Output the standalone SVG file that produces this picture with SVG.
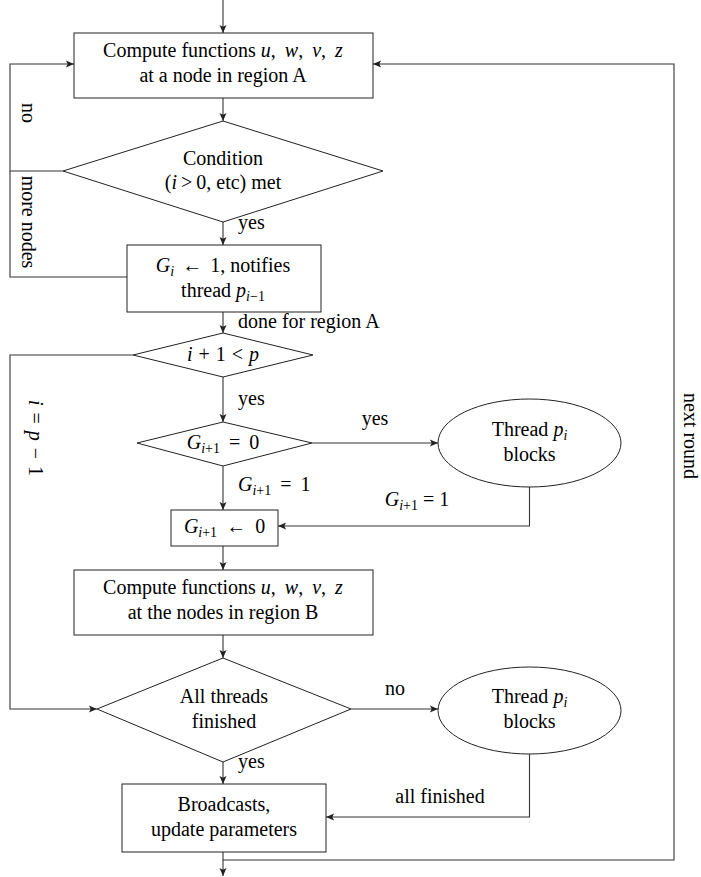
<svg xmlns="http://www.w3.org/2000/svg" width="701" height="877" viewBox="0 0 701 877" font-family="'Liberation Serif', 'Times New Roman', Tinos, 'DejaVu Serif', serif">
<style>
text{font-family:'Liberation Serif','Times New Roman',Tinos,'DejaVu Serif',serif;font-size:20px;fill:#000}
.m{font-style:italic}
.s{font-size:14px}
.n{fill:#fff;stroke:#222;stroke-width:1}
.c{fill:none;stroke:#333;stroke-width:1.1}
.a{marker-end:url(#arr)}
</style>
<defs>
<marker id="arr" markerUnits="userSpaceOnUse" markerWidth="10" markerHeight="10" viewBox="-7 -4 8 8" refX="0" refY="0" orient="auto">
<path d="M0,0 L-6.5,-2.8 L-5,0 L-6.5,2.8 z" fill="#222"/>
</marker>
</defs>
<g id="connectors">
<path class="c a" d="M223,0 V33"/>
<path class="c a" d="M223,98 V121"/>
<path class="c a" d="M63,171 H10 V64 H74"/>
<path class="c a" d="M223,222 V245"/>
<path class="c" d="M127,277 H10 V171"/>
<path class="c a" d="M223,312 V333"/>
<path class="c a" d="M133,355 H10 V709 H97"/>
<path class="c a" d="M223,377 V422"/>
<path class="c a" d="M312,443 H438"/>
<path class="c a" d="M223,466 V510"/>
<path class="c a" d="M529.5,487 V526 H278"/>
<path class="c a" d="M223,546 V570"/>
<path class="c a" d="M223,635 V658"/>
<path class="c a" d="M351,709 H438"/>
<path class="c a" d="M223,762 V784"/>
<path class="c a" d="M529.5,754 V817 H326"/>
<path class="c a" d="M223,852 V876"/>
<path class="c a" d="M223,860 H674 V64 H373"/>
<text transform="translate(22,113) rotate(90)" text-anchor="middle">no</text>
<text transform="translate(22,222) rotate(90)" text-anchor="middle">more nodes</text>
<text transform="translate(29,438) rotate(90)" text-anchor="middle"><tspan class="m">i</tspan><tspan dx="7">=</tspan><tspan dx="7" class="m">p</tspan><tspan dx="7">−</tspan><tspan dx="7">1</tspan></text>
<text transform="translate(684,436) rotate(90)" text-anchor="middle">next round</text>
<text x="238" y="229">yes</text>
<text x="238" y="328">done for region A</text>
<text x="238" y="405">yes</text>
<text x="375" y="425" text-anchor="middle">yes</text>
<text x="238" y="491"><tspan class="m">G</tspan><tspan class="s" dy="4"><tspan class="m">i</tspan>+1</tspan><tspan dy="-4" dx="9">=</tspan><tspan dx="9">1</tspan></text>
<text x="417" y="506" text-anchor="middle"><tspan class="m">G</tspan><tspan class="s" dy="4"><tspan class="m">i</tspan>+1</tspan><tspan dy="-4" dx="5">=</tspan><tspan dx="5">1</tspan></text>
<text x="395" y="695" text-anchor="middle">no</text>
<text x="238" y="768">yes</text>
<text x="440" y="803" text-anchor="middle">all finished</text>
</g>
<g id="box1">
<rect class="n" x="74" y="33" width="299" height="65"/>
<text x="223" y="57" text-anchor="middle">Compute functions <tspan class="m">u</tspan>,<tspan dx="9" class="m">w</tspan>,<tspan dx="9" class="m">v</tspan>,<tspan dx="9" class="m">z</tspan></text>
<text x="223" y="82" text-anchor="middle">at a node in region A</text>
</g>
<g id="cond1">
<polygon class="n" points="223,121 383,171 223,222 63,171"/>
<text x="223" y="165" text-anchor="middle">Condition</text>
<text x="223" y="189" text-anchor="middle">(<tspan class="m">i</tspan><tspan dx="4">&gt;</tspan><tspan dx="4">0, etc) met</tspan></text>
</g>
<g id="box2">
<rect class="n" x="127" y="245" width="194" height="67"/>
<text x="223" y="272" text-anchor="middle"><tspan class="m">G</tspan><tspan class="s m" dy="4">i</tspan><tspan dy="-4" dx="8">←</tspan><tspan dx="8">1, notifies</tspan></text>
<text x="223" y="297" text-anchor="middle">thread <tspan class="m">p</tspan><tspan class="s" dy="4"><tspan class="m">i</tspan>−1</tspan></text>
</g>
<g id="cond2">
<polygon class="n" points="223,333 313,355 223,377 133,355"/>
<text x="223" y="361" text-anchor="middle"><tspan class="m">i</tspan><tspan dx="6">+</tspan><tspan dx="6">1</tspan><tspan dx="6">&lt;</tspan><tspan dx="6" class="m">p</tspan></text>
</g>
<g id="cond3">
<polygon class="n" points="223,422 312,443 223,466 137,443"/>
<text x="223" y="449" text-anchor="middle"><tspan class="m">G</tspan><tspan class="s" dy="4"><tspan class="m">i</tspan>+1</tspan><tspan dy="-4" dx="9">=</tspan><tspan dx="9">0</tspan></text>
</g>
<g id="block1">
<ellipse class="n" cx="529.5" cy="443" rx="91.5" ry="44"/>
<text x="529.5" y="436" text-anchor="middle">Thread <tspan class="m">p</tspan><tspan class="s m" dy="4">i</tspan></text>
<text x="529.5" y="461" text-anchor="middle">blocks</text>
</g>
<g id="box3">
<rect class="n" x="171" y="510" width="107" height="36"/>
<text x="224.5" y="533" text-anchor="middle"><tspan class="m">G</tspan><tspan class="s" dy="4"><tspan class="m">i</tspan>+1</tspan><tspan dy="-4" dx="9">←</tspan><tspan dx="9">0</tspan></text>
</g>
<g id="box4">
<rect class="n" x="74" y="570" width="299" height="65"/>
<text x="223" y="594" text-anchor="middle">Compute functions <tspan class="m">u</tspan>,<tspan dx="9" class="m">w</tspan>,<tspan dx="9" class="m">v</tspan>,<tspan dx="9" class="m">z</tspan></text>
<text x="223" y="619" text-anchor="middle">at the nodes in region B</text>
</g>
<g id="cond4">
<polygon class="n" points="223,658 351,709 223,762 97,709"/>
<text x="224" y="703" text-anchor="middle">All threads</text>
<text x="224" y="728" text-anchor="middle">finished</text>
</g>
<g id="block2">
<ellipse class="n" cx="529.5" cy="710.5" rx="91.5" ry="43.5"/>
<text x="529.5" y="703" text-anchor="middle">Thread <tspan class="m">p</tspan><tspan class="s m" dy="4">i</tspan></text>
<text x="529.5" y="728" text-anchor="middle">blocks</text>
</g>
<g id="box5">
<rect class="n" x="122" y="784" width="204" height="68"/>
<text x="224" y="811" text-anchor="middle">Broadcasts,</text>
<text x="224" y="836" text-anchor="middle">update parameters</text>
</g>
</svg>
